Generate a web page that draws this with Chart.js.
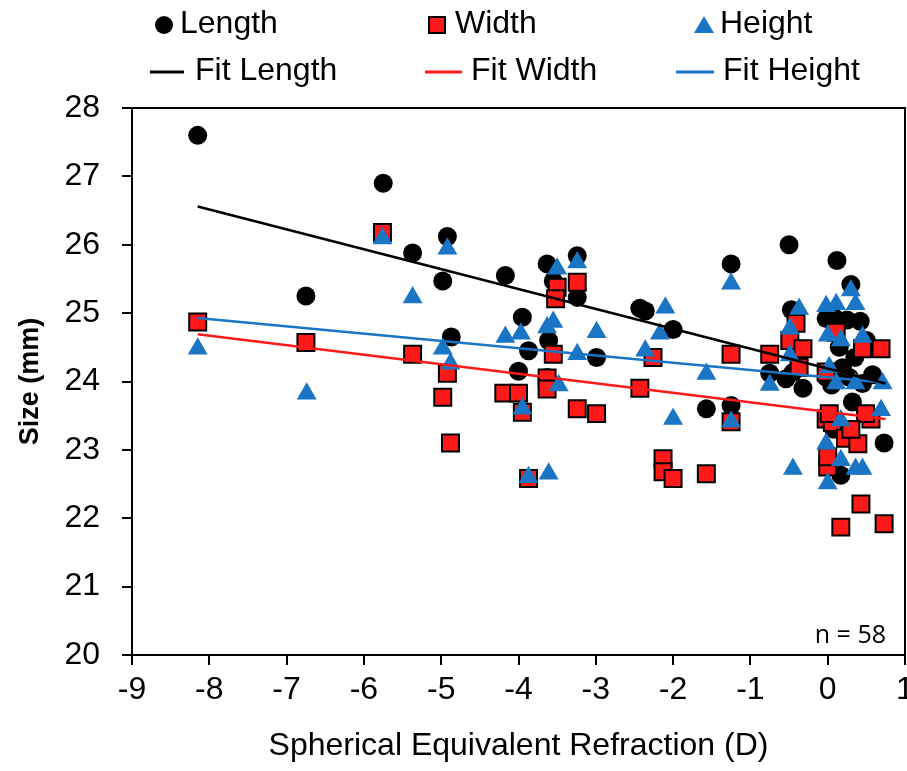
<!DOCTYPE html>
<html>
<head>
<meta charset="utf-8">
<script src="https://cdn.jsdelivr.net/npm/chart.js@4.4.1/dist/chart.umd.min.js"></script>
<style>
  html, body { margin: 0; padding: 0; background: #fff; }
  #wrap { width: 907px; height: 771px; }
</style>
</head>
<body>
<div id="wrap"><canvas id="grafico"></canvas></div>
<script>
// values
const lengthX = [-8.15, -6.75, -5.75, -5.37, -4.92, -4.98, -4.87, -4.17, -3.95, -3.87, -4.0, -3.63, -3.55, -3.61, -3.63, -3.24, -3.24, -2.99, -2.43, -2.36, -2.0, -1.57, -1.25, -1.25, -0.5, -0.47, -0.75, -0.54, -0.45, -0.32, -0.02, 0.1, 0.25, 0.42, 0.12, 0.3, -0.02, 0.19, 0.28, 0.58, 0.45, 0.32, 0.73, 0.17, 0.05, 0.15, 0.35, 0.08, 0.5];
const lengthY = [27.6, 25.25, 26.9, 25.88, 26.12, 25.47, 24.65, 25.55, 24.94, 24.45, 24.15, 25.72, 25.47, 24.6, 24.06, 25.84, 25.23, 24.35, 25.07, 25.03, 24.76, 23.6, 25.72, 23.65, 26.0, 25.05, 24.12, 24.04, 24.13, 23.9, 24.92, 24.92, 24.9, 24.88, 25.77, 25.42, 24.06, 24.2, 24.06, 24.1, 23.97, 23.7, 23.1, 22.63, 23.95, 24.5, 24.35, 23.3, 24.6];

const widthX = [-8.15, -6.75, -5.76, -5.37, -4.98, -4.92, -4.88, -4.19, -4.0, -3.95, -3.87, -3.5, -3.52, -3.55, -3.63, -3.63, -3.24, -3.24, -2.99, -2.43, -2.26, -2.13, -2.13, -2.0, -1.57, -1.25, -1.25, -0.75, -0.41, -0.49, -0.32, 0.11, 0.45, 0.69, -0.37, -0.02, -0.02, 0.06, 0.56, 0.23, 0.39, 0.0, 0.0, 0.43, 0.17, 0.73, 0.02, 0.49, 0.3];
const widthY = [24.87, 24.57, 26.18, 24.4, 23.77, 24.12, 23.1, 23.83, 23.83, 23.55, 22.58, 25.38, 25.21, 24.4, 24.05, 23.89, 25.45, 23.6, 23.53, 23.9, 24.35, 22.87, 22.68, 22.58, 22.65, 24.4, 23.41, 24.4, 24.85, 24.6, 24.48, 24.72, 24.48, 24.48, 24.21, 24.14, 23.45, 23.4, 23.45, 23.17, 23.09, 22.75, 22.9, 22.21, 21.87, 21.92, 23.53, 23.53, 23.3];

const heightX = [-8.15, -6.74, -5.76, -5.37, -4.92, -4.98, -4.88, -4.17, -3.97, -3.95, -3.87, -3.61, -3.5, -3.63, -3.55, -3.48, -3.24, -3.24, -2.99, -2.36, -2.17, -2.1, -2.0, -1.57, -1.25, -1.25, -0.75, -0.45, -0.37, -0.49, -0.49, -0.02, 0.11, 0.36, 0.3, 0.0, 0.17, 0.45, 0.02, 0.11, 0.36, 0.71, 0.17, 0.69, -0.02, 0.17, 0.36, 0.45, 0.0];
const heightY = [24.48, 23.82, 26.09, 25.23, 25.94, 24.48, 24.26, 24.65, 24.7, 23.6, 22.6, 22.65, 25.65, 24.79, 24.87, 23.94, 25.74, 24.4, 24.72, 24.45, 24.7, 25.08, 23.45, 24.11, 25.43, 23.41, 23.95, 22.72, 25.06, 24.77, 24.38, 25.1, 25.13, 25.13, 25.33, 24.67, 24.6, 24.65, 24.21, 23.97, 23.97, 23.97, 23.43, 23.58, 23.09, 22.85, 22.72, 22.72, 22.51];

// fit lines (end points)
const fitX = [-8.15, 0.75];
const fitLength = [26.56, 23.97];
const fitWidth = [24.69, 23.45];
const fitHeight = [24.93, 23.98];

const xTicks = [-9, -8, -7, -6, -5, -4, -3, -2, -1, 0, 1];
const yTicks = [20, 21, 22, 23, 24, 25, 26, 27, 28];

const azul = '#1b75c5';
const vermelho = '#ff1a1a';
const fonte = "'Liberation Sans', Arial, sans-serif";

function pontos(xs, ys) {
    return xs.map((x, i) => ({ x: x, y: ys[i] }));
}

const legendaPlugin = {
    id: 'legendaManual',
    afterDraw(chart) {
        const ctx = chart.ctx;
        const area = chart.chartArea;
        ctx.save();
        // frame top / right
        ctx.strokeStyle = '#000';
        ctx.lineWidth = 2;
        ctx.beginPath();
        ctx.moveTo(area.left, area.top);
        ctx.lineTo(area.right, area.top);
        ctx.lineTo(area.right, area.bottom);
        ctx.stroke();

        ctx.font = '32px ' + fonte;
        ctx.fillStyle = '#000';
        ctx.textBaseline = 'middle';
        ctx.textAlign = 'left';

        // row 1: markers
        ctx.beginPath();
        ctx.arc(164, 25, 9, 0, Math.PI * 2);
        ctx.fillStyle = '#000';
        ctx.fill();
        ctx.fillText('Length', 180, 24);

        ctx.fillStyle = vermelho;
        ctx.fillRect(429, 17, 16, 16);
        ctx.strokeStyle = '#000';
        ctx.lineWidth = 2;
        ctx.strokeRect(429, 17, 16, 16);
        ctx.fillStyle = '#000';
        ctx.fillText('Width', 455, 24);

        ctx.fillStyle = azul;
        ctx.beginPath();
        ctx.moveTo(704, 16);
        ctx.lineTo(714, 33);
        ctx.lineTo(694, 33);
        ctx.closePath();
        ctx.fill();
        ctx.fillStyle = '#000';
        ctx.fillText('Height', 720, 24);

        // row 2: lines
        const linhas = [
            ['#000', 150, 184, 'Fit Length', 195],
            [vermelho, 425, 462, 'Fit Width', 471],
            [azul, 676, 714, 'Fit Height', 723]
        ];
        linhas.forEach(l => {
            ctx.strokeStyle = l[0];
            ctx.lineWidth = 3;
            ctx.beginPath();
            ctx.moveTo(l[1], 72);
            ctx.lineTo(l[2], 72);
            ctx.stroke();
            ctx.fillStyle = '#000';
            ctx.fillText(l[3], l[4], 71);
        });

        // n = 58
        ctx.font = "25px 'Open Sans', sans-serif";
        ctx.textAlign = 'right';
        ctx.textBaseline = 'alphabetic';
        ctx.fillText('n = 58', 886, 643);
        ctx.restore();
    }
};

const graficoTamanho = new Chart(document.getElementById('grafico'), {
    type: 'scatter',
    data: {
        datasets: [
            {
                label: 'Fit Length', type: 'line', data: pontos(fitX, fitLength),
                borderColor: '#000', borderWidth: 2.5, pointRadius: 0, order: 1
            },
            {
                label: 'Fit Width', type: 'line', data: pontos(fitX, fitWidth),
                borderColor: vermelho, borderWidth: 2.5, pointRadius: 0, order: 1
            },
            {
                label: 'Fit Height', type: 'line', data: pontos(fitX, fitHeight),
                borderColor: azul, borderWidth: 2.5, pointRadius: 0, order: 1
            },
            {
                label: 'Height', data: pontos(heightX, heightY),
                pointStyle: 'triangle', pointRadius: 11.5, backgroundColor: azul,
                borderWidth: 0, order: 2
            },
            {
                label: 'Width', data: pontos(widthX, widthY),
                pointStyle: 'rect', pointRadius: 12, backgroundColor: vermelho,
                borderColor: '#000', borderWidth: 2, order: 3
            },
            {
                label: 'Length', data: pontos(lengthX, lengthY),
                pointStyle: 'circle', pointRadius: 9.5, backgroundColor: '#000',
                borderColor: '#000', borderWidth: 0, order: 4
            }
        ]
    },
    options: {
        responsive: true,
        maintainAspectRatio: false,
        animation: false,
        layout: { autoPadding: false, padding: { top: 108, right: 2, left: 0, bottom: 0 } },
        plugins: {
            legend: { display: false },
            tooltip: { enabled: false }
        },
        scales: {
            x: {
                type: 'linear',
                min: -9, max: 1,
                afterBuildTicks: s => { s.ticks = xTicks.map(v => ({ value: v })); },
                afterFit: s => { s.height = 116; s.paddingRight = 0; s.paddingLeft = 0; },
                border: { display: true, color: '#000', width: 2 },
                grid: { drawOnChartArea: false, drawTicks: true, tickLength: 10, color: '#000', lineWidth: 2 },
                ticks: { color: '#000', padding: 6, font: { family: fonte, size: 32 }, maxRotation: 0 },
                title: {
                    display: true, text: 'Spherical Equivalent Refraction (D)', color: '#000',
                    font: { family: fonte, size: 32 }, padding: { top: 0, bottom: 6 }
                }
            },
            y: {
                type: 'linear',
                min: 20, max: 28,
                afterBuildTicks: s => { s.ticks = yTicks.map(v => ({ value: v })); },
                afterFit: s => { s.width = 132; },
                border: { display: true, color: '#000', width: 2 },
                grid: { drawOnChartArea: false, drawTicks: true, tickLength: 10, color: '#000', lineWidth: 2 },
                ticks: { color: '#000', padding: 22, font: { family: fonte, size: 32 } },
                title: {
                    display: true, text: 'Size (mm)', color: '#000',
                    font: { family: fonte, size: 27, weight: 'bold' }, padding: { top: 14, bottom: 0 }
                }
            }
        }
    },
    plugins: [legendaPlugin]
});
</script>
</body>
</html>
